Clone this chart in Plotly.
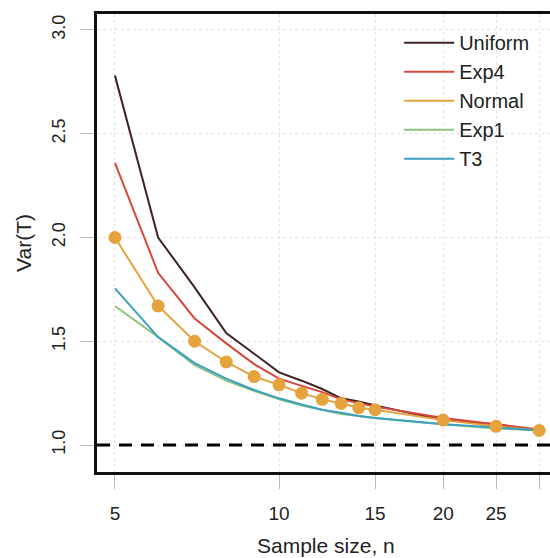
import plotly.graph_objects as go
import math

n = [5, 6, 7, 8, 9, 10, 11, 12, 13, 14, 15, 20, 25, 30]
uniform = [2.78, 2.00, 1.76, 1.54, 1.44, 1.35, 1.31, 1.27, 1.225, 1.21, 1.19, 1.12, 1.10, 1.07]
exp4 = [2.36, 1.83, 1.61, 1.49, 1.39, 1.32, 1.285, 1.255, 1.22, 1.20, 1.185, 1.13, 1.10, 1.075]
normal = [2.00, 1.67, 1.50, 1.40, 1.33, 1.29, 1.25, 1.22, 1.20, 1.18, 1.17, 1.12, 1.09, 1.07]
exp1 = [1.67, 1.52, 1.385, 1.31, 1.26, 1.22, 1.19, 1.17, 1.15, 1.14, 1.13, 1.10, 1.08, 1.07]
t3 = [1.755, 1.52, 1.395, 1.32, 1.265, 1.225, 1.195, 1.17, 1.155, 1.14, 1.13, 1.10, 1.085, 1.07]

x_ticks = [5, 10, 15, 20, 25, 30]
x_tick_labels = ["5", "10", "15", "20", "25", ""]
y_ticks = [1.0, 1.5, 2.0, 2.5, 3.0]
y_tick_labels = ["1.0", "1.5", "2.0", "2.5", "3.0"]

FONT = "Liberation Sans, Arial, sans-serif"
NORMAL_COL = "#e6a23c"

fig = go.Figure()
series = [
    ("Uniform", uniform, "#3f2222"),
    ("Exp4", exp4, "#d9473c"),
    ("Normal", normal, NORMAL_COL),
    ("Exp1", exp1, "#8cc47c"),
    ("T3", t3, "#3c9fbf"),
]
for name, vals, col in series:
    fig.add_trace(go.Scatter(
        x=n, y=vals, name=name, mode="lines",
        line=dict(color=col, width=2),
    ))

# markers of the Normal series, drawn on top
fig.add_trace(go.Scatter(
    x=n, y=normal, name="Normal", mode="markers", showlegend=False,
    marker=dict(size=13, color=NORMAL_COL),
))

fig.add_shape(type="line", xref="paper", yref="y", x0=0, x1=1, y0=1.0, y1=1.0,
              line=dict(color="black", width=3, dash="13px,9px"), layer="above")

fig.add_annotation(text="Sample size, n", xref="paper", yref="paper",
                   x=0.505, y=0, yshift=-73, xanchor="center", yanchor="middle",
                   showarrow=False, font=dict(family=FONT, size=21, color="#222"))

fig.update_layout(
    width=550, height=558,
    margin=dict(l=97, r=0, t=14, b=86),
    paper_bgcolor="white", plot_bgcolor="white",
    font=dict(family=FONT, size=17, color="#222"),
    showlegend=True,
    legend=dict(x=0.667, y=0.98, xanchor="left", yanchor="top",
                bgcolor="rgba(0,0,0,0)", font=dict(family=FONT, size=20, color="#222"),
                itemwidth=50, tracegroupgap=0),
    xaxis=dict(
        type="log", range=[math.log10(4.635), math.log10(31.4)],
        tickvals=x_ticks, ticktext=x_tick_labels,
        showgrid=True, gridcolor="#e2e2e2", griddash="dot", gridwidth=1,
        showline=True, linecolor="#111", linewidth=3, mirror=True,
        ticks="outside", ticklen=14, tickcolor="#bbbbbb", tickwidth=1,
        ticklabelstandoff=8, zeroline=False,
        tickfont=dict(family=FONT, size=19, color="#222"),
    ),
    yaxis=dict(
        range=[0.870, 3.077],
        tickvals=y_ticks, ticktext=y_tick_labels, tickangle=-90,
        showgrid=True, gridcolor="#e2e2e2", griddash="dot", gridwidth=1,
        showline=True, linecolor="#111", linewidth=3, mirror=False,
        ticks="outside", ticklen=14, tickcolor="#bbbbbb", tickwidth=1,
        ticklabelstandoff=8, zeroline=False,
        tickfont=dict(family=FONT, size=18, color="#222"),
        title=dict(text="Var(T)", font=dict(family=FONT, size=21, color="#222"), standoff=12),
    ),
)

fig.write_html("out.html")
